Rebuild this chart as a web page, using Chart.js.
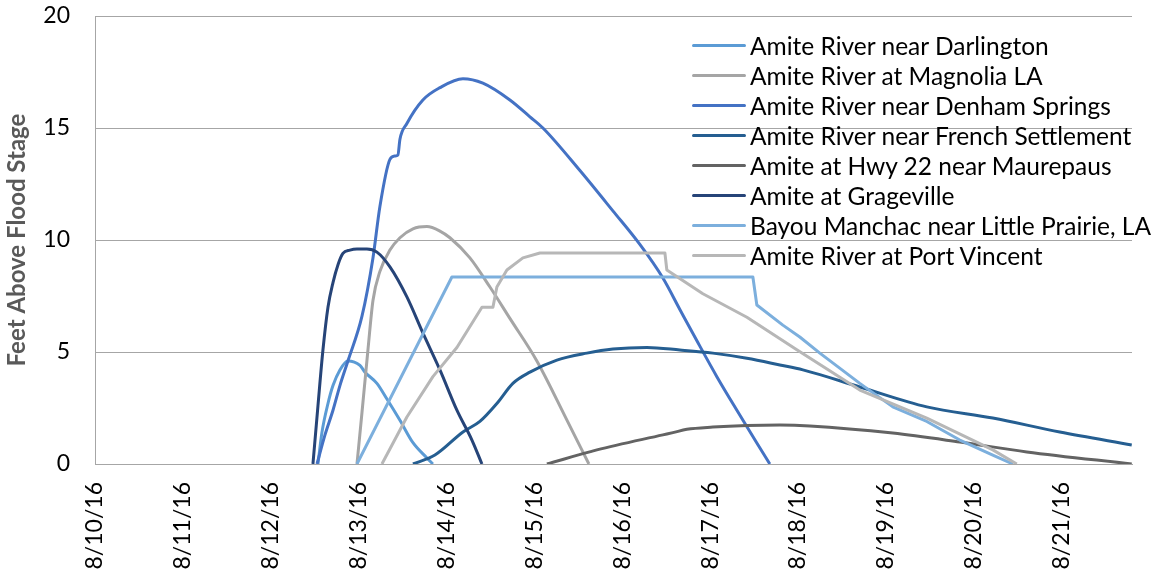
<!DOCTYPE html>
<html>
<head>
<meta charset="utf-8">
<script src="https://cdn.jsdelivr.net/npm/chart.js@4.4.1/dist/chart.umd.min.js"></script>
<style>
  body { margin: 0; background: #fff; }
  #wrap { position: relative; width: 1162px; height: 573px; }
  #legend { position: absolute; left: 692px; top: 30px; font: 24.5px Lato, sans-serif; color: #000; }
  #legend .row { display: flex; align-items: center; height: 30px; white-space: nowrap; }
  #legend .swatch { width: 54px; height: 0; border-top: 3px solid; border-radius: 2px; margin-right: 4px; }
</style>
</head>
<body>
<div id="wrap">
  <canvas id="chart"></canvas>
  <div id="legend"></div>
</div>
<script>
// tick labels, one per day starting 8/10/16 (x = days since 8/10 00:00)
const dateLabels = ['8/10/16', '8/11/16', '8/12/16', '8/13/16', '8/14/16', '8/15/16',
                    '8/16/16', '8/17/16', '8/18/16', '8/19/16', '8/20/16', '8/21/16'];

const seriesNames = [
  'Amite River near Darlington',
  'Amite River at Magnolia LA',
  'Amite River near Denham Springs',
  'Amite River near French Settlement',
  'Amite at Hwy 22 near Maurepaus',
  'Amite at Grageville',
  'Bayou Manchac near Little Prairie, LA',
  'Amite River at Port Vincent'
];
const seriesColors = ['#5B9BD5', '#A5A5A5', '#4472C4', '#255E91', '#636363', '#264478', '#7CAFDD', '#B7B7B7'];
// gauges whose record has flat tops / sudden steps are drawn straight
const steppedSeries = [false, false, false, false, false, false, true, true];

// feet above flood stage
const darlingtonDays = [2.537, 2.582, 2.651, 2.708, 2.787, 2.878, 3.015, 3.072, 3.208, 3.322, 3.470, 3.618, 3.777, 3.845];
const darlingtonFeet = [0, 1.4, 2.7, 3.5, 4.2, 4.6, 4.4, 4.1, 3.6, 2.9, 1.95, 0.95, 0.27, 0];

const magnoliaDays = [2.981, 3.038, 3.106, 3.163, 3.242, 3.356, 3.470, 3.618, 3.777, 3.925, 4.039, 4.266, 4.494, 4.721, 5.028, 5.370, 5.620];
const magnoliaFeet = [0, 2.3, 5.1, 7.3, 8.6, 9.55, 10.1, 10.5, 10.6, 10.4, 10.1, 9.2, 7.9, 6.5, 4.6, 1.96, 0];

const denhamDays = [2.526, 2.617, 2.708, 2.787, 2.878, 3.038, 3.163, 3.242, 3.356, 3.413, 3.447, 3.470, 3.549, 3.731,
                    3.925, 4.187, 4.414, 4.721, 4.949, 5.097, 5.518, 5.893, 6.200, 6.462, 6.655, 6.849, 7.076, 7.304, 7.531, 7.679];
const denhamFeet = [0, 1.3, 2.4, 3.5, 4.6, 6.6, 9.2, 11.5, 13.6, 13.75, 13.8, 14.5, 15.2, 16.25,
                    16.8, 17.2, 17.0, 16.25, 15.5, 15.0, 13.1, 11.3, 9.8, 8.3, 6.9, 5.5, 3.9, 2.4, 0.94, 0];

const frenchDays = [3.618, 3.868, 4.187, 4.380, 4.573, 4.755, 4.949, 5.256, 5.597, 5.893, 6.280, 6.655, 7.031, 7.418,
                    7.793, 8.055, 8.703, 9.465, 10.216, 10.978, 11.797];
const frenchFeet = [0, 0.4, 1.43, 1.9, 2.7, 3.6, 4.1, 4.64, 4.95, 5.13, 5.2, 5.09, 4.95, 4.72,
                    4.42, 4.2, 3.44, 2.55, 2.05, 1.43, 0.85];

const hwy22Days = [5.142, 5.711, 6.462, 6.576, 6.735, 7.031, 7.418, 7.793, 8.134, 9.078, 9.841, 10.603, 11.797];
const hwy22Feet = [0, 0.63, 1.3, 1.4, 1.55, 1.65, 1.72, 1.74, 1.7, 1.38, 0.98, 0.54, 0];

const gragevilleDays = [2.480, 2.537, 2.594, 2.651, 2.708, 2.765, 2.821, 2.901, 2.981, 3.094, 3.208, 3.356, 3.549,
                        3.731, 3.925, 4.118, 4.289, 4.403];
const gragevilleFeet = [0, 2.6, 5.1, 7.0, 8.1, 8.9, 9.4, 9.55, 9.6, 9.6, 9.46, 8.8, 7.46,
                        5.85, 4.2, 2.4, 1.07, 0];

const manchacDays = [2.981, 4.061, 7.486, 7.531, 7.827, 8.020, 8.248, 8.703, 9.078, 9.465, 9.841, 10.216, 10.444];
const manchacFeet = [0, 8.35, 8.35, 7.1, 6.2, 5.67, 4.95, 3.6, 2.55, 1.9, 1.07, 0.4, 0];

const portVincentDays = [3.265, 3.549, 3.845, 4.118, 4.403, 4.528, 4.573, 4.687, 4.869, 5.063, 6.485, 6.507, 6.917,
                         7.418, 7.986, 8.703, 9.465, 10.216, 10.489];
const portVincentFeet = [0, 2.1, 3.9, 5.2, 7.0, 7.0, 7.9, 8.66, 9.2, 9.42, 9.42, 8.66, 7.6,
                         6.55, 5.1, 3.3, 2.05, 0.63, 0];

const toPoints = (days, feet) => days.map((d, i) => ({ x: d, y: feet[i] }));
const seriesData = [
  toPoints(darlingtonDays, darlingtonFeet),
  toPoints(magnoliaDays, magnoliaFeet),
  toPoints(denhamDays, denhamFeet),
  toPoints(frenchDays, frenchFeet),
  toPoints(hwy22Days, hwy22Feet),
  toPoints(gragevilleDays, gragevilleFeet),
  toPoints(manchacDays, manchacFeet),
  toPoints(portVincentDays, portVincentFeet)
];

const gridGrey = '#a6a6a6';
const font = 'Lato';

new Chart(document.getElementById('chart'), {
  type: 'line',
  data: {
    datasets: seriesNames.map((name, i) => ({
      label: name,
      data: seriesData[i],
      borderColor: seriesColors[i],
      backgroundColor: seriesColors[i],
      borderWidth: 3,
      borderJoinStyle: 'round',
      pointRadius: 0,
      cubicInterpolationMode: steppedSeries[i] ? 'default' : 'monotone',
      tension: 0,
      fill: false,
      order: seriesNames.length - i   // later series on top, like the original
    }))
  },
  options: {
    responsive: true,
    maintainAspectRatio: false,
    animation: false,
    layout: { padding: { top: 16, right: 30, left: 0, bottom: 0 } },
    plugins: { legend: { display: false }, tooltip: { enabled: false } },
    scales: {
      x: {
        type: 'linear',
        min: 0,
        max: 11.8,
        afterFit: s => { s.height = 109; },
        grid: { display: false, drawTicks: false },
        border: { color: gridGrey, width: 1 },
        ticks: {
          stepSize: 1,
          includeBounds: false,
          autoSkip: false,
          minRotation: 90,
          maxRotation: 90,
          padding: 18,
          color: '#000',
          font: { family: font, size: 23 },
          callback: v => dateLabels[v] ?? ''
        }
      },
      y: {
        min: 0,
        max: 20,
        afterFit: s => { s.width = 95; },
        // invisible tick marks give the gap between labels and axis
        grid: { color: gridGrey, drawTicks: true, tickLength: 25, tickColor: 'rgba(0,0,0,0)' },
        border: { color: gridGrey },
        ticks: { stepSize: 5, padding: 0, color: '#000', font: { family: font, size: 23 } },
        title: {
          display: true,
          text: 'Feet Above Flood Stage',
          color: '#595959',
          font: { family: font, size: 24, weight: 'bold' },
          padding: { top: 3 }
        }
      }
    }
  }
});

// legend drawn inside the plot, top right
const legendEl = document.getElementById('legend');
seriesNames.forEach((name, i) => {
  const row = document.createElement('div');
  row.className = 'row';
  const sw = document.createElement('span');
  sw.className = 'swatch';
  sw.style.borderTopColor = seriesColors[i];
  const txt = document.createElement('span');
  txt.textContent = name;
  row.appendChild(sw);
  row.appendChild(txt);
  legendEl.appendChild(row);
});
</script>
</body>
</html>
